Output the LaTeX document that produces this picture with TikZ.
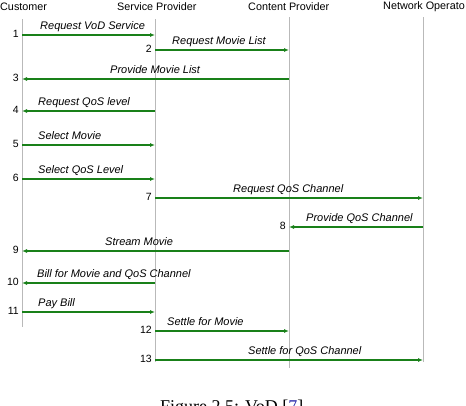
\documentclass[tikz,border=0pt]{standalone}
\usepackage{fontspec}
\setmainfont{Liberation Sans}
\newfontfamily\capfont{Liberation Serif}
\usetikzlibrary{arrows.meta}
\definecolor{msggreen}{RGB}{25,128,25}
\definecolor{lifegray}{RGB}{185,185,185}
\definecolor{citeblue}{RGB}{40,40,170}
\tikzset{
  life/.style={draw=lifegray, line width=0.9pt},
  msg/.style={draw=msggreen, line width=1.1pt, -{Latex[length=5pt,width=4pt]}},
  lbl/.style={font=\fontsize{11}{13}\selectfont\itshape, anchor=base west, inner sep=0pt},
  num/.style={font=\fontsize{10.5}{12}\selectfont, anchor=east, inner sep=0pt},
  hdr/.style={font=\fontsize{10.8}{12}\selectfont, anchor=west, inner sep=0pt}
}
\begin{document}
\begin{tikzpicture}[x=1pt,y=-1pt]
\useasboundingbox (0,0) rectangle (466,405);
% headers
\node[hdr] (hC) at (0,7) {Customer};
\node[hdr] (hS) at (117,7) {Service Provider};
\node[hdr] (hP) at (248,7) {Content Provider};
\node[hdr] (hN) at (383,7) {Network Operato};
% lifelines
\coordinate (Ct) at (22,19); \coordinate (Cb) at (22,327);
\coordinate (St) at (155,19); \coordinate (Sb) at (155,362);
\coordinate (Pt) at (289,17); \coordinate (Pb) at (289,368);
\coordinate (Nt) at (423,17); \coordinate (Nb) at (423,362);
\draw[life] (Ct) -- (Cb);
\draw[life] (St) -- (Sb);
\draw[life] (Pt) -- (Pb);
\draw[life] (Nt) -- (Nb);
% message endpoints
\foreach \i/\y in {1/35,2/50,3/79,4/111,5/145,6/179,7/198,8/227,9/251,10/283,11/312,12/331,13/360}{
  \coordinate (C\i) at (22,\y);
  \coordinate (S\i) at (155,\y);
  \coordinate (P\i) at (289,\y);
  \coordinate (N\i) at (423,\y);
}
% messages
\draw[msg] (C1) -- (S1);
\draw[msg] (S2) -- (P2);
\draw[msg] (P3) -- (C3);
\draw[msg] (S4) -- (C4);
\draw[msg] (C5) -- (S5);
\draw[msg] (C6) -- (S6);
\draw[msg] (S7) -- (N7);
\draw[msg] (N8) -- (P8);
\draw[msg] (P9) -- (C9);
\draw[msg] (S10) -- (C10);
\draw[msg] (C11) -- (S11);
\draw[msg] (S12) -- (P12);
\draw[msg] (S13) -- (N13);
% labels
\node[lbl] (l1) at (40,29.5) {Request VoD Service};
\node[lbl] (l2) at (172,44.5) {Request Movie List};
\node[lbl] (l3) at (110,73.5) {Provide Movie List};
\node[lbl] (l4) at (38,105.5) {Request QoS level};
\node[lbl] (l5) at (38,139.5) {Select Movie};
\node[lbl] (l6) at (38,173.5) {Select QoS Level};
\node[lbl] (l7) at (233,192.5) {Request QoS Channel};
\node[lbl] (l8) at (306,221.5) {Provide QoS Channel};
\node[lbl] (l9) at (105,245.5) {Stream Movie};
\node[lbl] (l10) at (37,277.5) {Bill for Movie and QoS Channel};
\node[lbl] (l11) at (38,306.5) {Pay Bill};
\node[lbl] (l12) at (167,325.5) {Settle for Movie};
\node[lbl] (l13) at (248,354.5) {Settle for QoS Channel};
% numbers
\node[num] (n1) at (19,34) {1};
\node[num] (n2) at (152,49) {2};
\node[num] (n3) at (19,78) {3};
\node[num] (n4) at (19,110) {4};
\node[num] (n5) at (19,144) {5};
\node[num] (n6) at (19,178) {6};
\node[num] (n7) at (152,197) {7};
\node[num] (n8) at (286,226) {8};
\node[num] (n9) at (19,250) {9};
\node[num] (n10) at (19,282) {10};
\node[num] (n11) at (19,311) {11};
\node[num] (n12) at (152,330) {12};
\node[num] (n13) at (152,359) {13};
% caption (cut off at the bottom edge, as in the reference)
\begin{scope}
\clip (0,0) rectangle (466,405);
\node[font=\capfont\fontsize{18}{20}\selectfont, anchor=base west, inner sep=0pt] (cap) at (160,412) {Figure 2.5: VoD [\textcolor{citeblue}{7}]};
\end{scope}
\end{tikzpicture}
\end{document}
